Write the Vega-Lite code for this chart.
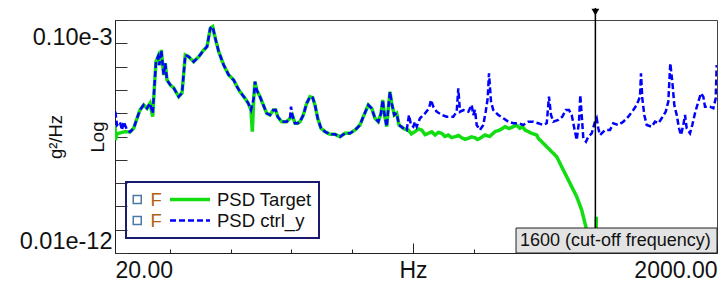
{
"$schema":"https://vega.github.io/schema/vega-lite/v6.json",
"width":602,"height":233,
"autosize":{"type":"none"},
"padding":{"left":115,"top":20,"right":11,"bottom":31},
"background":"white",
"config":{"font":"Liberation Sans","view":{"stroke":"#444","strokeWidth":1}},
"datasets":{
"psd":[
{"s":"PSD Target","f":20.2,"p":3.1e-9},{"s":"PSD Target","f":21.5,"p":7e-10},{"s":"PSD Target","f":26,"p":1.3e-9},{"s":"PSD Target","f":32,"p":1.37e-9},{"s":"PSD Target","f":52.9,"p":1.61e-9},{"s":"PSD Target","f":69.3,"p":1.56e-9},
{"s":"PSD Target","f":81.5,"p":2.25e-9},{"s":"PSD Target","f":92.4,"p":6.04e-9},{"s":"PSD Target","f":102.2,"p":1.37e-8},{"s":"PSD Target","f":114.4,"p":2.25e-8},{"s":"PSD Target","f":125.2,"p":1.62e-8},{"s":"PSD Target","f":135.1,"p":2.66e-8},{"s":"PSD Target","f":144,"p":7.08e-9},{"s":"PSD Target","f":150.6,"p":2.25e-7},{"s":"PSD Target","f":154.8,"p":1.62e-6},{"s":"PSD Target","f":161.4,"p":2.66e-6},{"s":"PSD Target","f":165.7,"p":1.17e-6},{"s":"PSD Target","f":172.3,"p":5.15e-6},{"s":"PSD Target","f":176.9,"p":1.17e-6},{"s":"PSD Target","f":180.2,"p":4.36e-7},{"s":"PSD Target","f":185.4,"p":1.39e-6},{"s":"PSD Target","f":191,"p":2.66e-7},{"s":"PSD Target","f":201.9,"p":1.62e-7},{"s":"PSD Target","f":213.1,"p":1.21e-7},{"s":"PSD Target","f":229.5,"p":5.1e-8},{"s":"PSD Target","f":240.4,"p":7.36e-8},{"s":"PSD Target","f":251.2,"p":3.15e-6},{"s":"PSD Target","f":262.4,"p":2.66e-6},{"s":"PSD Target","f":278.8,"p":1.62e-6},{"s":"PSD Target","f":295.3,"p":2.66e-6},{"s":"PSD Target","f":311.7,"p":5.15e-6},{"s":"PSD Target","f":322.6,"p":7.14e-6},{"s":"PSD Target","f":333.4,"p":4.41e-5},{"s":"PSD Target","f":341.3,"p":5.15e-5},{"s":"PSD Target","f":349.9,"p":1.64e-5},{"s":"PSD Target","f":361.1,"p":4.36e-6},{"s":"PSD Target","f":377.5,"p":1.17e-6},{"s":"PSD Target","f":394,"p":4.36e-7},{"s":"PSD Target","f":410.4,"p":2.66e-7},{"s":"PSD Target","f":421.3,"p":1.37e-7},{"s":"PSD Target","f":431.1,"p":8.37e-8},{"s":"PSD Target","f":447.6,"p":4.36e-8},{"s":"PSD Target","f":458.4,"p":2.66e-8},{"s":"PSD Target","f":467.3,"p":1.37e-8},{"s":"PSD Target","f":471.6,"p":1.61e-9},{"s":"PSD Target","f":476.2,"p":4.36e-8},{"s":"PSD Target","f":480.5,"p":2.25e-7},{"s":"PSD Target","f":486,"p":9.9e-8},{"s":"PSD Target","f":496.9,"p":5.1e-8},{"s":"PSD Target","f":507.8,"p":2.25e-8},{"s":"PSD Target","f":518.9,"p":9.9e-9},{"s":"PSD Target","f":529.8,"p":8.37e-9},{"s":"PSD Target","f":540.6,"p":1.37e-8},{"s":"PSD Target","f":548.5,"p":1.37e-8},{"s":"PSD Target","f":555.1,"p":7.08e-9},{"s":"PSD Target","f":568.3,"p":4.32e-9},{"s":"PSD Target","f":584.7,"p":4.32e-9},{"s":"PSD Target","f":595.6,"p":6.04e-9},{"s":"PSD Target","f":603.1,"p":8.37e-9},{"s":"PSD Target","f":612,"p":3.69e-9},{"s":"PSD Target","f":620.9,"p":3.69e-9},{"s":"PSD Target","f":628.5,"p":4.32e-9},{"s":"PSD Target","f":639.3,"p":8.37e-9},{"s":"PSD Target","f":650.5,"p":2.66e-8},{"s":"PSD Target","f":661.4,"p":5.1e-8},{"s":"PSD Target","f":670.2,"p":4.62e-8},{"s":"PSD Target","f":677.8,"p":2.25e-8},{"s":"PSD Target","f":686.7,"p":6.04e-9},{"s":"PSD Target","f":697.5,"p":2.25e-9},{"s":"PSD Target","f":710.7,"p":1.61e-9},{"s":"PSD Target","f":727.2,"p":1.24e-9},{"s":"PSD Target","f":743.6,"p":1.24e-9},{"s":"PSD Target","f":760,"p":9.8e-10},{"s":"PSD Target","f":776.5,"p":1.37e-9},{"s":"PSD Target","f":792.9,"p":1.37e-9},{"s":"PSD Target","f":809.4,"p":1.9e-9},{"s":"PSD Target","f":825.8,"p":3.12e-9},{"s":"PSD Target","f":836.7,"p":7.08e-9},{"s":"PSD Target","f":853.1,"p":2.25e-8},{"s":"PSD Target","f":864.3,"p":1.62e-8},{"s":"PSD Target","f":875.1,"p":6.04e-9},{"s":"PSD Target","f":886,"p":4.32e-9},{"s":"PSD Target","f":894.9,"p":9.9e-9},{"s":"PSD Target","f":900.5,"p":3.69e-8},{"s":"PSD Target","f":905.7,"p":9.9e-9},{"s":"PSD Target","f":913.6,"p":2.64e-9},{"s":"PSD Target","f":918.9,"p":1.62e-8},{"s":"PSD Target","f":924.5,"p":8.37e-8},{"s":"PSD Target","f":930.1,"p":2.66e-8},{"s":"PSD Target","f":938.6,"p":8.37e-9},{"s":"PSD Target","f":946.5,"p":9.9e-9},{"s":"PSD Target","f":954.1,"p":3.12e-9},{"s":"PSD Target","f":968.2,"p":2.25e-9},{"s":"PSD Target","f":979.4,"p":1.9e-9},
{"s":"PSD Target","f":984.7,"p":1.9e-9},{"s":"PSD Target","f":995,"p":1.3e-9},{"s":"PSD Target","f":1006.7,"p":1.61e-9},{"s":"PSD Target","f":1017,"p":2.1e-9},{"s":"PSD Target","f":1028.7,"p":1.9e-9},{"s":"PSD Target","f":1040,"p":1.2e-9},{"s":"PSD Target","f":1050.4,"p":1.37e-9},{"s":"PSD Target","f":1062,"p":1.6e-9},{"s":"PSD Target","f":1072.5,"p":1.16e-9},{"s":"PSD Target","f":1084,"p":1.5e-9},{"s":"PSD Target","f":1094.5,"p":1.37e-9},{"s":"PSD Target","f":1105,"p":1.0e-9},{"s":"PSD Target","f":1116.2,"p":1.16e-9},{"s":"PSD Target","f":1127,"p":9.0e-10},{"s":"PSD Target","f":1138.3,"p":9.8e-10},{"s":"PSD Target","f":1150,"p":1.1e-9},{"s":"PSD Target","f":1160.3,"p":8.87e-10},{"s":"PSD Target","f":1171,"p":7.6e-10},{"s":"PSD Target","f":1182,"p":8.37e-10},{"s":"PSD Target","f":1193,"p":9.6e-10},{"s":"PSD Target","f":1204,"p":8.87e-10},{"s":"PSD Target","f":1212,"p":7.4e-10},{"s":"PSD Target","f":1220.5,"p":8.37e-10},{"s":"PSD Target","f":1236.9,"p":1.16e-9},{"s":"PSD Target","f":1252,"p":1.0e-9},{"s":"PSD Target","f":1269.8,"p":1.61e-9},{"s":"PSD Target","f":1286,"p":1.9e-9},{"s":"PSD Target","f":1302.7,"p":2.64e-9},{"s":"PSD Target","f":1316,"p":2.2e-9},{"s":"PSD Target","f":1330,"p":2.64e-9},{"s":"PSD Target","f":1340,"p":3.1e-9},{"s":"PSD Target","f":1352,"p":2.25e-9},{"s":"PSD Target","f":1360,"p":2.7e-9},{"s":"PSD Target","f":1368.5,"p":1.9e-9},{"s":"PSD Target","f":1380,"p":1.6e-9},{"s":"PSD Target","f":1390.5,"p":1.37e-9},{"s":"PSD Target","f":1407,"p":1.16e-9},{"s":"PSD Target","f":1412.2,"p":8.37e-10},{"s":"PSD Target","f":1434.3,"p":4.32e-10},{"s":"PSD Target","f":1439.9,"p":3.65e-10},{"s":"PSD Target","f":1456.3,"p":2.23e-10},{"s":"PSD Target","f":1472.7,"p":1.36e-10},{"s":"PSD Target","f":1494.5,"p":3.65e-11},{"s":"PSD Target","f":1516.5,"p":9.8e-12},{"s":"PSD Target","f":1538.6,"p":2.61e-12},{"s":"PSD Target","f":1555,"p":7e-13},{"s":"PSD Target","f":1565.8,"p":1.88e-13},{"s":"PSD Target","f":1576.7,"p":5e-14},{"s":"PSD Target","f":1590,"p":3e-15},{"s":"PSD Target","f":1601,"p":3e-15},{"s":"PSD Target","f":1603,"p":3.6e-13},
{"s":"PSD ctrl_y","f":21,"p":1.16e-8},{"s":"PSD ctrl_y","f":26.6,"p":3.12e-9},{"s":"PSD ctrl_y","f":36.4,"p":4.19e-9},{"s":"PSD ctrl_y","f":43,"p":1.9e-9},{"s":"PSD ctrl_y","f":48.6,"p":4.32e-9},{"s":"PSD ctrl_y","f":59.5,"p":1.9e-9},{"s":"PSD ctrl_y","f":69.3,"p":1.56e-9},
{"s":"PSD ctrl_y","f":81.5,"p":2.25e-9},{"s":"PSD ctrl_y","f":92.4,"p":6.04e-9},{"s":"PSD ctrl_y","f":102.2,"p":1.37e-8},{"s":"PSD ctrl_y","f":114.4,"p":2.25e-8},{"s":"PSD ctrl_y","f":125.2,"p":1.62e-8},{"s":"PSD ctrl_y","f":135.1,"p":2.66e-8},{"s":"PSD ctrl_y","f":144,"p":9.9e-9},{"s":"PSD ctrl_y","f":150.6,"p":2.25e-7},{"s":"PSD ctrl_y","f":154.8,"p":1.62e-6},{"s":"PSD ctrl_y","f":161.4,"p":2.66e-6},{"s":"PSD ctrl_y","f":165.7,"p":1.17e-6},{"s":"PSD ctrl_y","f":172.3,"p":5.15e-6},{"s":"PSD ctrl_y","f":176.9,"p":1.17e-6},{"s":"PSD ctrl_y","f":180.2,"p":4.36e-7},{"s":"PSD ctrl_y","f":185.4,"p":1.39e-6},{"s":"PSD ctrl_y","f":191,"p":2.66e-7},{"s":"PSD ctrl_y","f":201.9,"p":1.62e-7},{"s":"PSD ctrl_y","f":213.1,"p":1.21e-7},{"s":"PSD ctrl_y","f":229.5,"p":5.1e-8},{"s":"PSD ctrl_y","f":240.4,"p":7.36e-8},{"s":"PSD ctrl_y","f":251.2,"p":3.15e-6},{"s":"PSD ctrl_y","f":262.4,"p":2.66e-6},{"s":"PSD ctrl_y","f":278.8,"p":1.62e-6},{"s":"PSD ctrl_y","f":295.3,"p":2.66e-6},{"s":"PSD ctrl_y","f":311.7,"p":5.15e-6},{"s":"PSD ctrl_y","f":322.6,"p":7.14e-6},{"s":"PSD ctrl_y","f":333.4,"p":4.41e-5},{"s":"PSD ctrl_y","f":341.3,"p":5.15e-5},{"s":"PSD ctrl_y","f":349.9,"p":1.64e-5},{"s":"PSD ctrl_y","f":361.1,"p":4.36e-6},{"s":"PSD ctrl_y","f":377.5,"p":1.17e-6},{"s":"PSD ctrl_y","f":394,"p":4.36e-7},{"s":"PSD ctrl_y","f":410.4,"p":2.66e-7},{"s":"PSD ctrl_y","f":421.3,"p":1.37e-7},{"s":"PSD ctrl_y","f":431.1,"p":8.37e-8},{"s":"PSD ctrl_y","f":447.6,"p":4.36e-8},{"s":"PSD ctrl_y","f":458.4,"p":2.66e-8},{"s":"PSD ctrl_y","f":467.3,"p":1.37e-8},{"s":"PSD ctrl_y","f":476.2,"p":4.36e-8},{"s":"PSD ctrl_y","f":480.5,"p":2.25e-7},{"s":"PSD ctrl_y","f":486,"p":9.9e-8},{"s":"PSD ctrl_y","f":496.9,"p":5.1e-8},{"s":"PSD ctrl_y","f":507.8,"p":2.25e-8},{"s":"PSD ctrl_y","f":518.9,"p":9.9e-9},{"s":"PSD ctrl_y","f":529.8,"p":8.37e-9},{"s":"PSD ctrl_y","f":540.6,"p":1.37e-8},{"s":"PSD ctrl_y","f":548.5,"p":1.37e-8},{"s":"PSD ctrl_y","f":555.1,"p":7.08e-9},{"s":"PSD ctrl_y","f":568.3,"p":4.32e-9},{"s":"PSD ctrl_y","f":584.7,"p":4.32e-9},{"s":"PSD ctrl_y","f":595.6,"p":6.04e-9},{"s":"PSD ctrl_y","f":598.9,"p":1.9e-8},{"s":"PSD ctrl_y","f":603.1,"p":8.37e-9},{"s":"PSD ctrl_y","f":612,"p":3.69e-9},{"s":"PSD ctrl_y","f":620.9,"p":3.69e-9},{"s":"PSD ctrl_y","f":628.5,"p":4.32e-9},{"s":"PSD ctrl_y","f":639.3,"p":8.37e-9},{"s":"PSD ctrl_y","f":650.5,"p":2.66e-8},{"s":"PSD ctrl_y","f":661.4,"p":5.1e-8},{"s":"PSD ctrl_y","f":670.2,"p":4.62e-8},{"s":"PSD ctrl_y","f":677.8,"p":2.25e-8},{"s":"PSD ctrl_y","f":686.7,"p":6.04e-9},{"s":"PSD ctrl_y","f":697.5,"p":2.25e-9},{"s":"PSD ctrl_y","f":710.7,"p":1.61e-9},{"s":"PSD ctrl_y","f":727.2,"p":1.24e-9},{"s":"PSD ctrl_y","f":743.6,"p":1.24e-9},{"s":"PSD ctrl_y","f":760,"p":9.8e-10},{"s":"PSD ctrl_y","f":776.5,"p":1.37e-9},{"s":"PSD ctrl_y","f":792.9,"p":1.37e-9},{"s":"PSD ctrl_y","f":809.4,"p":1.9e-9},{"s":"PSD ctrl_y","f":825.8,"p":3.12e-9},{"s":"PSD ctrl_y","f":836.7,"p":7.08e-9},{"s":"PSD ctrl_y","f":853.1,"p":2.25e-8},{"s":"PSD ctrl_y","f":864.3,"p":1.62e-8},{"s":"PSD ctrl_y","f":875.1,"p":6.04e-9},{"s":"PSD ctrl_y","f":886,"p":4.32e-9},{"s":"PSD ctrl_y","f":894.9,"p":9.9e-9},{"s":"PSD ctrl_y","f":900.5,"p":3.69e-8},{"s":"PSD ctrl_y","f":905.7,"p":9.9e-9},{"s":"PSD ctrl_y","f":913.6,"p":2.64e-9},{"s":"PSD ctrl_y","f":918.9,"p":1.62e-8},{"s":"PSD ctrl_y","f":924.5,"p":8.37e-8},{"s":"PSD ctrl_y","f":930.1,"p":2.66e-8},{"s":"PSD ctrl_y","f":938.6,"p":8.37e-9},{"s":"PSD ctrl_y","f":946.5,"p":9.9e-9},{"s":"PSD ctrl_y","f":954.1,"p":3.12e-9},{"s":"PSD ctrl_y","f":968.2,"p":2.25e-9},{"s":"PSD ctrl_y","f":979.4,"p":1.9e-9},
{"s":"PSD ctrl_y","f":987,"p":8.37e-9},{"s":"PSD ctrl_y","f":993.6,"p":3.12e-9},{"s":"PSD ctrl_y","f":1001.1,"p":2.64e-9},{"s":"PSD ctrl_y","f":1006.7,"p":4.32e-9},{"s":"PSD ctrl_y","f":1012.3,"p":2.64e-9},{"s":"PSD ctrl_y","f":1023.1,"p":6.04e-9},{"s":"PSD ctrl_y","f":1039.6,"p":9.9e-9},{"s":"PSD ctrl_y","f":1052.7,"p":1.62e-8},{"s":"PSD ctrl_y","f":1059.3,"p":3.69e-8},{"s":"PSD ctrl_y","f":1066.9,"p":1.9e-8},{"s":"PSD ctrl_y","f":1078.1,"p":1.16e-8},{"s":"PSD ctrl_y","f":1094.5,"p":8.37e-9},{"s":"PSD ctrl_y","f":1111,"p":7.08e-9},{"s":"PSD ctrl_y","f":1132.7,"p":7.08e-9},{"s":"PSD ctrl_y","f":1143.9,"p":1.16e-8},{"s":"PSD ctrl_y","f":1149.1,"p":1.17e-7},{"s":"PSD ctrl_y","f":1154.7,"p":1.16e-8},{"s":"PSD ctrl_y","f":1165.6,"p":1.37e-8},{"s":"PSD ctrl_y","f":1182,"p":1.16e-8},{"s":"PSD ctrl_y","f":1193.2,"p":2.25e-8},{"s":"PSD ctrl_y","f":1198.5,"p":8.37e-9},{"s":"PSD ctrl_y","f":1204,"p":1.37e-8},{"s":"PSD ctrl_y","f":1209.6,"p":3.12e-9},{"s":"PSD ctrl_y","f":1220.5,"p":1.9e-9},{"s":"PSD ctrl_y","f":1231.3,"p":3.12e-9},{"s":"PSD ctrl_y","f":1239.2,"p":1.16e-8},{"s":"PSD ctrl_y","f":1245.8,"p":4.36e-8},{"s":"PSD ctrl_y","f":1250.1,"p":5.15e-7},{"s":"PSD ctrl_y","f":1256.7,"p":3.12e-8},{"s":"PSD ctrl_y","f":1264.2,"p":1.37e-8},{"s":"PSD ctrl_y","f":1280.7,"p":8.37e-9},{"s":"PSD ctrl_y","f":1297.1,"p":6.04e-9},{"s":"PSD ctrl_y","f":1313.6,"p":4.32e-9},{"s":"PSD ctrl_y","f":1330,"p":3.69e-9},{"s":"PSD ctrl_y","f":1346.5,"p":3.69e-9},{"s":"PSD ctrl_y","f":1362.9,"p":3.12e-9},{"s":"PSD ctrl_y","f":1379.3,"p":4.32e-9},{"s":"PSD ctrl_y","f":1395.8,"p":4.32e-9},{"s":"PSD ctrl_y","f":1412.2,"p":3.69e-9},{"s":"PSD ctrl_y","f":1428.7,"p":3.12e-9},{"s":"PSD ctrl_y","f":1439.9,"p":3.69e-9},{"s":"PSD ctrl_y","f":1447.4,"p":5.1e-8},{"s":"PSD ctrl_y","f":1454,"p":8.37e-9},{"s":"PSD ctrl_y","f":1461.6,"p":4.32e-9},{"s":"PSD ctrl_y","f":1478,"p":5.1e-9},{"s":"PSD ctrl_y","f":1491.2,"p":7.08e-9},{"s":"PSD ctrl_y","f":1502.4,"p":1.37e-8},{"s":"PSD ctrl_y","f":1513.2,"p":1.37e-8},{"s":"PSD ctrl_y","f":1522.1,"p":8.37e-9},{"s":"PSD ctrl_y","f":1530.7,"p":2.25e-9},{"s":"PSD ctrl_y","f":1538.6,"p":7.08e-10},{"s":"PSD ctrl_y","f":1546.1,"p":4.32e-9},{"s":"PSD ctrl_y","f":1550.4,"p":6.04e-8},{"s":"PSD ctrl_y","f":1555,"p":8.37e-9},{"s":"PSD ctrl_y","f":1560.3,"p":8.37e-10},{"s":"PSD ctrl_y","f":1569.1,"p":5.98e-10},{"s":"PSD ctrl_y","f":1576.7,"p":9.8e-10},{"s":"PSD ctrl_y","f":1587.9,"p":1.37e-9},{"s":"PSD ctrl_y","f":1598.7,"p":4.32e-9},{"s":"PSD ctrl_y","f":1604.3,"p":6.04e-9},{"s":"PSD ctrl_y","f":1609.6,"p":2.25e-9},{"s":"PSD ctrl_y","f":1615.2,"p":1.16e-9},{"s":"PSD ctrl_y","f":1631.6,"p":1.9e-9},{"s":"PSD ctrl_y","f":1648.1,"p":1.9e-9},{"s":"PSD ctrl_y","f":1658.9,"p":3.69e-9},{"s":"PSD ctrl_y","f":1675.4,"p":3.12e-9},{"s":"PSD ctrl_y","f":1691.8,"p":4.32e-9},{"s":"PSD ctrl_y","f":1708.2,"p":7.08e-9},{"s":"PSD ctrl_y","f":1724.7,"p":1.37e-8},{"s":"PSD ctrl_y","f":1735.9,"p":2.25e-8},{"s":"PSD ctrl_y","f":1746.7,"p":5.1e-8},{"s":"PSD ctrl_y","f":1750,"p":5.15e-7},{"s":"PSD ctrl_y","f":1754.3,"p":4.36e-8},{"s":"PSD ctrl_y","f":1760.9,"p":8.37e-9},{"s":"PSD ctrl_y","f":1768.8,"p":3.12e-9},{"s":"PSD ctrl_y","f":1785.2,"p":2.64e-9},{"s":"PSD ctrl_y","f":1796.1,"p":4.32e-9},{"s":"PSD ctrl_y","f":1807,"p":3.69e-9},{"s":"PSD ctrl_y","f":1818.1,"p":6.04e-9},{"s":"PSD ctrl_y","f":1831.3,"p":1.16e-8},{"s":"PSD ctrl_y","f":1839.8,"p":3.12e-8},{"s":"PSD ctrl_y","f":1846.4,"p":1.39e-6},{"s":"PSD ctrl_y","f":1853,"p":2.25e-7},{"s":"PSD ctrl_y","f":1859.6,"p":2.25e-8},{"s":"PSD ctrl_y","f":1867.5,"p":8.37e-9},{"s":"PSD ctrl_y","f":1875,"p":2.25e-9},{"s":"PSD ctrl_y","f":1881.6,"p":1.16e-9},{"s":"PSD ctrl_y","f":1889.2,"p":3.12e-9},{"s":"PSD ctrl_y","f":1894.8,"p":8.37e-9},{"s":"PSD ctrl_y","f":1900.3,"p":2.25e-9},{"s":"PSD ctrl_y","f":1911.2,"p":1.37e-9},{"s":"PSD ctrl_y","f":1918.7,"p":3.12e-9},{"s":"PSD ctrl_y","f":1927.6,"p":9.9e-9},{"s":"PSD ctrl_y","f":1938.5,"p":3.12e-8},{"s":"PSD ctrl_y","f":1947.4,"p":7.14e-8},{"s":"PSD ctrl_y","f":1955,"p":5.1e-8},{"s":"PSD ctrl_y","f":1960.5,"p":1.9e-8},{"s":"PSD ctrl_y","f":1977,"p":1.9e-8},{"s":"PSD ctrl_y","f":1987.9,"p":1.62e-8},{"s":"PSD ctrl_y","f":1995.8,"p":4.36e-8},{"s":"PSD ctrl_y","f":1999,"p":1.17e-6}
],
"notes":[{"cutoff":1600,"label":"1600 (cut-off frequency)"}]
},
"data":{"name":"psd"},
"layer":[
{
"mark":{"type":"line","clip":true},
"encoding":{
"x":{"field":"f","type":"quantitative","scale":{"domain":[20,2000],"nice":false,"zero":false},
 "axis":{"title":null,"grid":false,"values":[20,100,200,300,400,500,600,700,800,900,1000,1100,1200,1300,1400,1500,1600,1700,1800,1900,2000],
 "tickSize":-10,
 "tickDash":{"condition":{"test":"datum.value % 500 === 0","value":[20,0]},"value":[4,30]},
 "tickColor":"#222","domainColor":"#222","labelExpr":"datum.value === 20 ? '20.00' : datum.value === 1000 ? 'Hz' : datum.value === 2000 ? '2000.00' : ''",
 "labelFlush":true,"labelFontSize":23,"labelColor":"#111","labelPadding":16,"labelOverlap":false}},
"y":{"field":"p","type":"quantitative","scale":{"type":"log","domain":[1e-14,1e-4],"nice":false},
 "axis":{"title":["g²/Hz","Log"],"grid":false,"values":[1e-14,1e-13,1e-12,1e-11,1e-10,1e-9,1e-8,1e-7,1e-6,1e-5,1e-4],
 "tickSize":-12,"tickColor":"#333","domainColor":"#222",
 "labelExpr":"abs(log(datum.value)/LN10 + 4) < 0.01 ? '0.10e-3' : abs(log(datum.value)/LN10 + 14) < 0.01 ? '0.01e-12' : ''",
 "labelFlush":true,"labelFontSize":23.5,"labelColor":"#111","labelPadding":15,"labelOverlap":false,
 "labelOffset":{"condition":{"test":"datum.value > 1e-5","value":5},"value":0},
 "titleFontSize":18.5,"titleFontWeight":"normal","titleColor":"#111","titleX":-54,"titleY":116.5,"titleAngle":270,"titleBaseline":"alphabetic","titleAlign":"center","titleLineHeight":42}},
"color":{"field":"s","type":"nominal","scale":{"domain":["PSD Target","PSD ctrl_y"],"range":["#11dd11","#0000ff"]},
 "legend":{"title":null,"orient":"none","legendX":11,"legendY":162,"padding":7,"strokeColor":"#1a1a6e","symbolType":"stroke","symbolSize":1600,"symbolStrokeWidth":2.5,"clipHeight":21,"rowPadding":0,"symbolOffset":35,"labelOffset":5,"labelFontSize":18.5,"labelColor":"#111","labelLimit":0,
 "encode":{"legend":{"update":{"strokeWidth":{"value":2}}}}}},
"strokeDash":{"field":"s","type":"nominal","scale":{"domain":["PSD Target","PSD ctrl_y"],"range":[[1,0],[6,3]]},
 "legend":{"title":null,"orient":"none","legendX":11,"legendY":162,"padding":7,"strokeColor":"#1a1a6e","symbolType":"stroke","symbolSize":1600,"symbolStrokeWidth":2.5,"clipHeight":21,"rowPadding":0,"symbolOffset":35,"labelOffset":5,"labelFontSize":18.5,"labelColor":"#111","labelLimit":0,
 "encode":{"legend":{"update":{"strokeWidth":{"value":2}}}}}},
"strokeWidth":{"field":"s","type":"nominal","scale":{"domain":["PSD Target","PSD ctrl_y"],"range":[3.5,2.5]},"legend":null}
}
},
{
"transform":[{"aggregate":[{"op":"max","field":"f","as":"f"},{"op":"max","field":"p","as":"p"}],"groupby":["s"]}],
"mark":{"type":"point","opacity":0},
"encoding":{
"x":{"field":"f","type":"quantitative"},
"y":{"field":"p","type":"quantitative"},
"shape":{"field":"s","type":"nominal","scale":{"domain":["PSD ctrl_y","PSD Target"],"range":["square","square"]},
 "legend":{"title":null,"orient":"none","legendX":6,"legendY":162,"padding":7,"symbolType":"square","symbolSize":64,"clipHeight":21,"rowPadding":0,"labelOffset":4,"labelFontSize":18.5,"labelColor":"#b06010","labelExpr":"'F'",
 "encode":{"symbols":{"update":{"opacity":{"value":1},"fill":{"value":"white"},"stroke":{"value":"#333"},"strokeWidth":{"value":1}}}}}}
}
},
{
"data":{"name":"notes"},
"mark":{"type":"rule","color":"black","strokeWidth":1.5},
"encoding":{"x":{"field":"cutoff","type":"quantitative"},"y":{"datum":3.3e-4},"y2":{"datum":1e-14}}
},
{
"data":{"name":"notes"},
"mark":{"type":"point","shape":"triangle-down","filled":true,"color":"black","size":60,"opacity":1},
"encoding":{"x":{"field":"cutoff","type":"quantitative"},"y":{"datum":2.2e-4}}
},
{
"data":{"name":"notes"},
"mark":{"type":"rect","fill":"#e3e3e3","stroke":"#222","strokeWidth":1},
"encoding":{"x":{"datum":1339},"x2":{"datum":2000},"y":{"datum":1.18e-13},"y2":{"datum":1e-14}}
},
{
"data":{"name":"notes"},
"mark":{"type":"text","align":"left","baseline":"middle","fontSize":18,"color":"#111"},
"encoding":{"x":{"datum":1352},"y":{"datum":3.4e-14},"text":{"field":"label"}}
}
]
}
